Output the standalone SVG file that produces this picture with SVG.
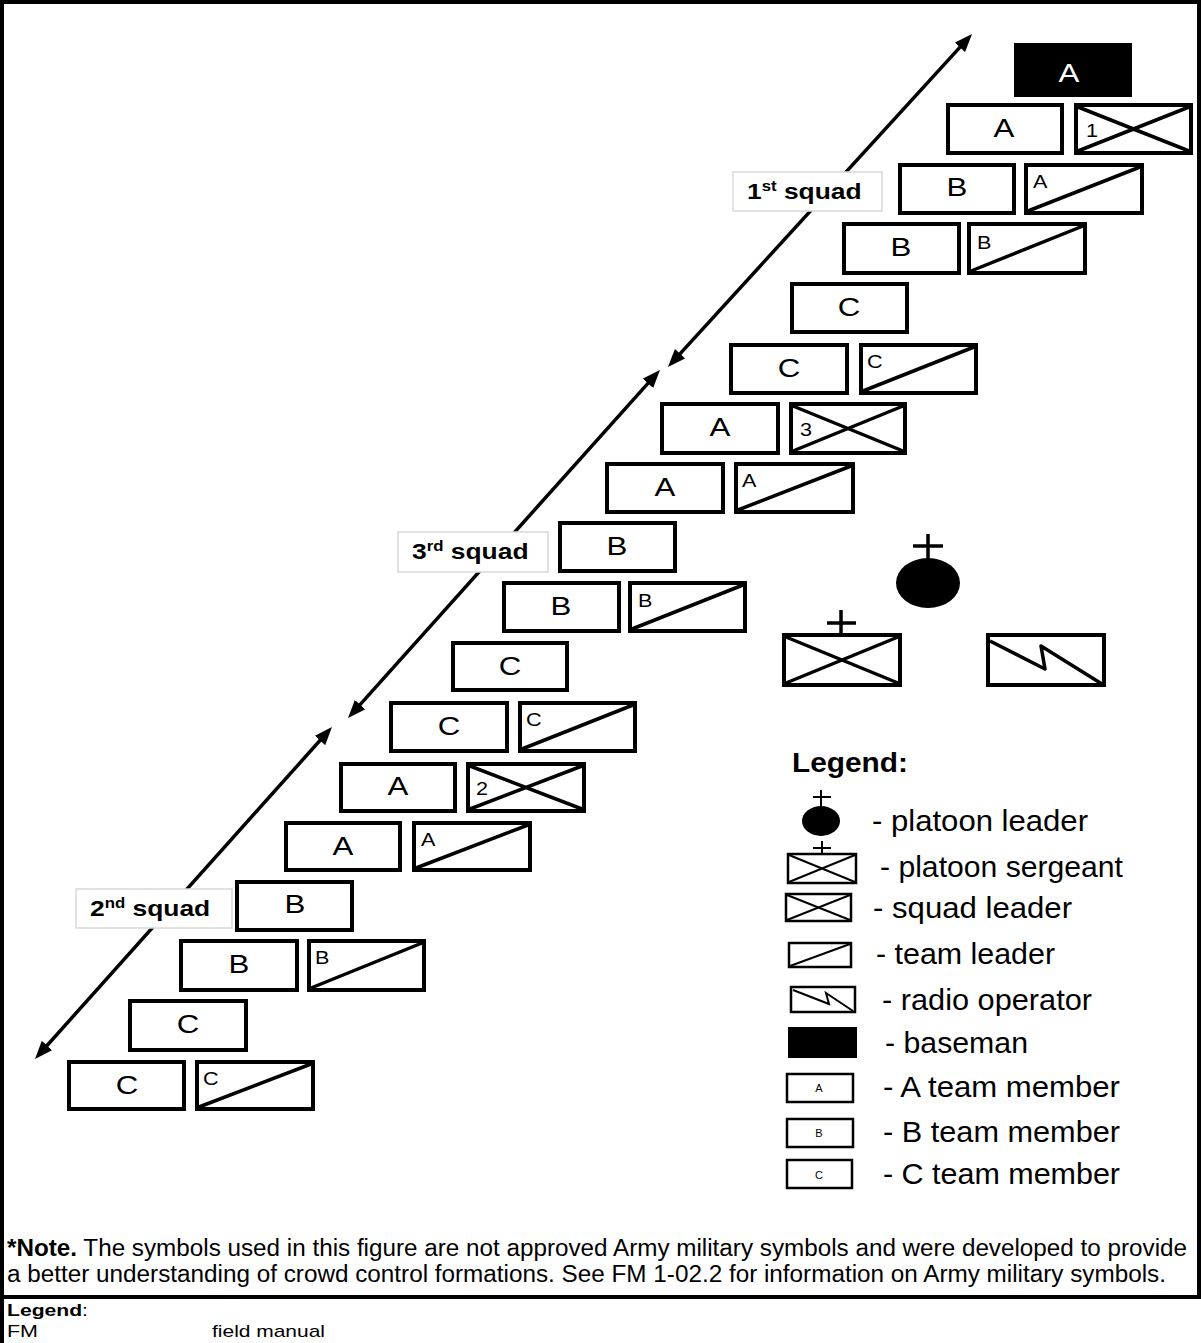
<svg xmlns="http://www.w3.org/2000/svg" width="1201" height="1343" viewBox="0 0 1201 1343">
  <style>
    text { font-family: "Liberation Sans", Arial, sans-serif; fill: #000; }
    .box { fill: #fff; stroke: #000; stroke-width: 4; }
    .diag { stroke: #000; stroke-width: 3.5; fill: none; }
    .big { font-size: 25px; text-anchor: middle; }
    .small { font-size: 18px; }
    .lbl { fill: #fff; stroke: #d9d9d9; stroke-width: 1.5; }
    .sq { font-size: 22px; font-weight: bold; }
    .lg { fill: #fff; stroke: #000; stroke-width: 2.5; }
    .lgd { stroke: #000; stroke-width: 2; fill: none; }
    .lt { font-size: 29px; }
    .lsm { font-size: 11px; text-anchor: middle; }
    .note { font-size: 23px; }
    .acr { font-size: 17px; }
    .frame { stroke: #000; stroke-width: 4; fill: none; }
    .arrow { stroke: #000; stroke-width: 3.5; fill: none; }
  </style>
  <defs>
    <marker id="head" viewBox="0 0 18 14" refX="8" refY="7" markerWidth="18" markerHeight="14" markerUnits="userSpaceOnUse" orient="auto-start-reverse">
      <path d="M0,0 L18,7 L0,14 z" fill="#000"/>
    </marker>
  </defs>

  <!-- frame -->
  <path class="frame" d="M2,1343 V2 H1199 V1297"/>
  <line class="frame" x1="0" y1="1297" x2="1201" y2="1297"/>

  <!-- direction arrows -->
  <g id="connectors">
    <line class="arrow" x1="674.7" y1="359.6" x2="965.3" y2="41.4" marker-start="url(#head)" marker-end="url(#head)"/>
    <line class="arrow" x1="653.3" y1="377.4" x2="354.7" y2="710.6" marker-start="url(#head)" marker-end="url(#head)"/>
    <line class="arrow" x1="325.3" y1="734.5" x2="41.7" y2="1051.5" marker-start="url(#head)" marker-end="url(#head)"/>
  </g>

  <!-- squad labels -->
  <g id="label-1st-squad">
    <rect class="lbl" x="733" y="172" width="149" height="39"/>
    <text class="sq" transform="translate(747 199) scale(1.2 1)">1<tspan font-size="14" dy="-8">st</tspan><tspan dy="8"> squad</tspan></text>
  </g>
  <g id="label-3rd-squad">
    <rect class="lbl" x="398" y="532" width="150" height="40"/>
    <text class="sq" transform="translate(412 559) scale(1.2 1)">3<tspan font-size="14" dy="-8">rd</tspan><tspan dy="8"> squad</tspan></text>
  </g>
  <g id="label-2nd-squad">
    <rect class="lbl" x="76" y="889" width="156" height="39"/>
    <text class="sq" transform="translate(90 916) scale(1.2 1)">2<tspan font-size="14" dy="-8">nd</tspan><tspan dy="8"> squad</tspan></text>
  </g>

  <!-- baseman -->
  <g id="baseman">
    <rect x="1014" y="43" width="118" height="54" fill="#000"/>
    <text class="big" style="fill:#fff" transform="translate(1069 82) scale(1.25 1)" font-size="26">A</text>
  </g>

  <!-- row 1 -->
  <g id="a-member-1"><rect class="box" x="948" y="105" width="114" height="48"/><text class="big" transform="translate(1004 137) scale(1.25 1)">A</text></g>
  <g id="squad-leader-1"><rect class="box" x="1076" y="105" width="115" height="48"/><path class="diag" d="M1078,107 L1189,151 M1078,151 L1189,107"/><text class="small" transform="translate(1086 137) scale(1.2 1)">1</text></g>
  <!-- row 2 -->
  <g id="b-member-1a"><rect class="box" x="900" y="165" width="114" height="48"/><text class="big" transform="translate(957 196) scale(1.25 1)">B</text></g>
  <g id="team-leader-1a"><rect class="box" x="1026" y="165" width="116" height="48"/><path class="diag" d="M1028,211 L1140,167"/><text class="small" transform="translate(1033 188) scale(1.2 1)">A</text></g>
  <!-- row 3 -->
  <g id="b-member-1b"><rect class="box" x="844" y="224" width="115" height="49"/><text class="big" transform="translate(901 256) scale(1.25 1)">B</text></g>
  <g id="team-leader-1b"><rect class="box" x="969" y="224" width="116" height="49"/><path class="diag" d="M971,271 L1083,226"/><text class="small" transform="translate(977 249) scale(1.2 1)">B</text></g>
  <!-- row 4 -->
  <g id="c-member-1a"><rect class="box" x="792" y="284" width="115" height="48"/><text class="big" transform="translate(849 316) scale(1.25 1)">C</text></g>
  <!-- row 5 -->
  <g id="c-member-1b"><rect class="box" x="731" y="345" width="116" height="48"/><text class="big" transform="translate(789 377) scale(1.25 1)">C</text></g>
  <g id="team-leader-1c"><rect class="box" x="861" y="345" width="115" height="48"/><path class="diag" d="M863,391 L974,347"/><text class="small" transform="translate(867 368) scale(1.2 1)">C</text></g>
  <!-- row 6 -->
  <g id="a-member-3a"><rect class="box" x="662" y="404" width="116" height="49"/><text class="big" transform="translate(720 436) scale(1.25 1)">A</text></g>
  <g id="squad-leader-3"><rect class="box" x="791" y="404" width="114" height="49"/><path class="diag" d="M793,406 L903,451 M793,451 L903,406"/><text class="small" transform="translate(800 436) scale(1.2 1)">3</text></g>
  <!-- row 7 -->
  <g id="a-member-3b"><rect class="box" x="607" y="464" width="116" height="48"/><text class="big" transform="translate(665 496) scale(1.25 1)">A</text></g>
  <g id="team-leader-3a"><rect class="box" x="736" y="464" width="117" height="48"/><path class="diag" d="M738,510 L851,466"/><text class="small" transform="translate(742 487) scale(1.2 1)">A</text></g>
  <!-- row 8 -->
  <g id="b-member-3a"><rect class="box" x="560" y="523" width="115" height="48"/><text class="big" transform="translate(617 555) scale(1.25 1)">B</text></g>
  <!-- row 9 -->
  <g id="b-member-3b"><rect class="box" x="504" y="583" width="115" height="48"/><text class="big" transform="translate(561 615) scale(1.25 1)">B</text></g>
  <g id="team-leader-3b"><rect class="box" x="630" y="583" width="115" height="48"/><path class="diag" d="M632,629 L743,585"/><text class="small" transform="translate(638 607) scale(1.2 1)">B</text></g>
  <!-- row 10 -->
  <g id="c-member-3a"><rect class="box" x="453" y="643" width="114" height="47"/><text class="big" transform="translate(510 675) scale(1.25 1)">C</text></g>
  <!-- row 11 -->
  <g id="c-member-3b"><rect class="box" x="391" y="703" width="116" height="48"/><text class="big" transform="translate(449 735) scale(1.25 1)">C</text></g>
  <g id="team-leader-3c"><rect class="box" x="520" y="703" width="115" height="48"/><path class="diag" d="M522,749 L633,705"/><text class="small" transform="translate(526 726) scale(1.2 1)">C</text></g>
  <!-- row 12 -->
  <g id="a-member-2a"><rect class="box" x="341" y="764" width="114" height="47"/><text class="big" transform="translate(398 795) scale(1.25 1)">A</text></g>
  <g id="squad-leader-2"><rect class="box" x="468" y="764" width="116" height="47"/><path class="diag" d="M470,766 L582,809 M470,809 L582,766"/><text class="small" transform="translate(476 795) scale(1.2 1)">2</text></g>
  <!-- row 13 -->
  <g id="a-member-2b"><rect class="box" x="286" y="823" width="114" height="47"/><text class="big" transform="translate(343 855) scale(1.25 1)">A</text></g>
  <g id="team-leader-2a"><rect class="box" x="414" y="823" width="116" height="47"/><path class="diag" d="M416,868 L528,825"/><text class="small" transform="translate(421 846) scale(1.2 1)">A</text></g>
  <!-- row 14 -->
  <g id="b-member-2a"><rect class="box" x="237" y="882" width="115" height="48"/><text class="big" transform="translate(295 913) scale(1.25 1)">B</text></g>
  <!-- row 15 -->
  <g id="b-member-2b"><rect class="box" x="181" y="941" width="116" height="49"/><text class="big" transform="translate(239 973) scale(1.25 1)">B</text></g>
  <g id="team-leader-2b"><rect class="box" x="309" y="941" width="115" height="49"/><path class="diag" d="M311,988 L422,943"/><text class="small" transform="translate(315 964) scale(1.2 1)">B</text></g>
  <!-- row 16 -->
  <g id="c-member-2a"><rect class="box" x="130" y="1001" width="116" height="49"/><text class="big" transform="translate(188 1033) scale(1.25 1)">C</text></g>
  <!-- row 17 -->
  <g id="c-member-2b"><rect class="box" x="69" y="1062" width="115" height="47"/><text class="big" transform="translate(127 1094) scale(1.25 1)">C</text></g>
  <g id="team-leader-2c"><rect class="box" x="197" y="1062" width="116" height="47"/><path class="diag" d="M199,1107 L311,1064"/><text class="small" transform="translate(203 1085) scale(1.2 1)">C</text></g>

  <!-- headquarters element -->
  <g id="platoon-leader">
    <ellipse cx="928" cy="583" rx="32" ry="25" fill="#000"/>
    <path class="diag" stroke-width="4" d="M928,534 V559 M913,546 H943"/>
  </g>
  <g id="platoon-sergeant">
    <path class="diag" stroke-width="4" d="M841,610 V634 M827,623 H856"/>
    <rect class="box" x="784" y="635" width="116" height="50"/>
    <path class="diag" d="M786,637 L898,683 M786,683 L898,637"/>
  </g>
  <g id="radio-operator">
    <rect class="box" x="988" y="635" width="116" height="50"/>
    <polyline class="diag" stroke-linejoin="round" points="990,641 1045,669 1041,646 1102,684"/>
  </g>

  <!-- symbol legend -->
  <g id="legend">
    <text x="792" y="772" font-size="27" font-weight="bold" textLength="116" lengthAdjust="spacingAndGlyphs">Legend:</text>

    <g id="legend-platoon-leader">
      <ellipse cx="821" cy="821" rx="19" ry="15" fill="#000"/>
      <path class="lgd" stroke-width="2.5" d="M821,790 V806 M813,797 H831"/>
      <text class="lt" x="872" y="831" textLength="216" lengthAdjust="spacingAndGlyphs">- platoon leader</text>
    </g>
    <g id="legend-platoon-sergeant">
      <path class="lgd" stroke-width="2.5" d="M822,841 V854 M813,848 H831"/>
      <rect class="lg" x="788" y="854" width="68" height="29"/>
      <path class="lgd" d="M789,855 L855,882 M789,882 L855,855"/>
      <text class="lt" x="880" y="877" textLength="243" lengthAdjust="spacingAndGlyphs">- platoon sergeant</text>
    </g>
    <g id="legend-squad-leader">
      <rect class="lg" x="786" y="894" width="65" height="27"/>
      <path class="lgd" d="M787,895 L850,920 M787,920 L850,895"/>
      <text class="lt" x="873" y="918" textLength="199" lengthAdjust="spacingAndGlyphs">- squad leader</text>
    </g>
    <g id="legend-team-leader">
      <rect class="lg" x="789" y="943" width="62" height="24"/>
      <path class="lgd" d="M790,966 L850,944"/>
      <text class="lt" x="876" y="964" textLength="179" lengthAdjust="spacingAndGlyphs">- team leader</text>
    </g>
    <g id="legend-radio-operator">
      <rect class="lg" x="791" y="987" width="64" height="25"/>
      <polyline class="lgd" points="793,990 829,1004 826,993 853,1011"/>
      <text class="lt" x="882" y="1010" textLength="210" lengthAdjust="spacingAndGlyphs">- radio operator</text>
    </g>
    <g id="legend-baseman">
      <rect x="788" y="1027" width="69" height="31" fill="#000"/>
      <text class="lt" x="885" y="1053" textLength="143" lengthAdjust="spacingAndGlyphs">- baseman</text>
    </g>
    <g id="legend-a-member">
      <rect class="lg" x="787" y="1074" width="66" height="28"/>
      <text class="lsm" x="819" y="1092">A</text>
      <text class="lt" x="883" y="1097" textLength="237" lengthAdjust="spacingAndGlyphs">- A team member</text>
    </g>
    <g id="legend-b-member">
      <rect class="lg" x="787" y="1119" width="66" height="28"/>
      <text class="lsm" x="819" y="1137">B</text>
      <text class="lt" x="883" y="1142" textLength="237" lengthAdjust="spacingAndGlyphs">- B team member</text>
    </g>
    <g id="legend-c-member">
      <rect class="lg" x="787" y="1160" width="65" height="28"/>
      <text class="lsm" x="819" y="1179">C</text>
      <text class="lt" x="883" y="1184" textLength="237" lengthAdjust="spacingAndGlyphs">- C team member</text>
    </g>
  </g>

  <!-- note -->
  <g id="note">
    <text class="note" x="7" y="1256" textLength="1180" lengthAdjust="spacingAndGlyphs"><tspan font-weight="bold">*Note.</tspan> The symbols used in this figure are not approved Army military symbols and were developed to provide</text>
    <text class="note" x="7" y="1282" textLength="1159" lengthAdjust="spacingAndGlyphs">a better understanding of crowd control formations. See FM 1-02.2 for information on Army military symbols.</text>
  </g>

  <!-- acronym legend -->
  <g id="acronyms">
    <text class="acr" x="7" y="1316" textLength="81" lengthAdjust="spacingAndGlyphs"><tspan font-weight="bold">Legend</tspan>:</text>
    <text class="acr" x="7" y="1337" textLength="31" lengthAdjust="spacingAndGlyphs">FM</text>
    <text class="acr" x="212" y="1337" textLength="113" lengthAdjust="spacingAndGlyphs">field manual</text>
  </g>
</svg>
